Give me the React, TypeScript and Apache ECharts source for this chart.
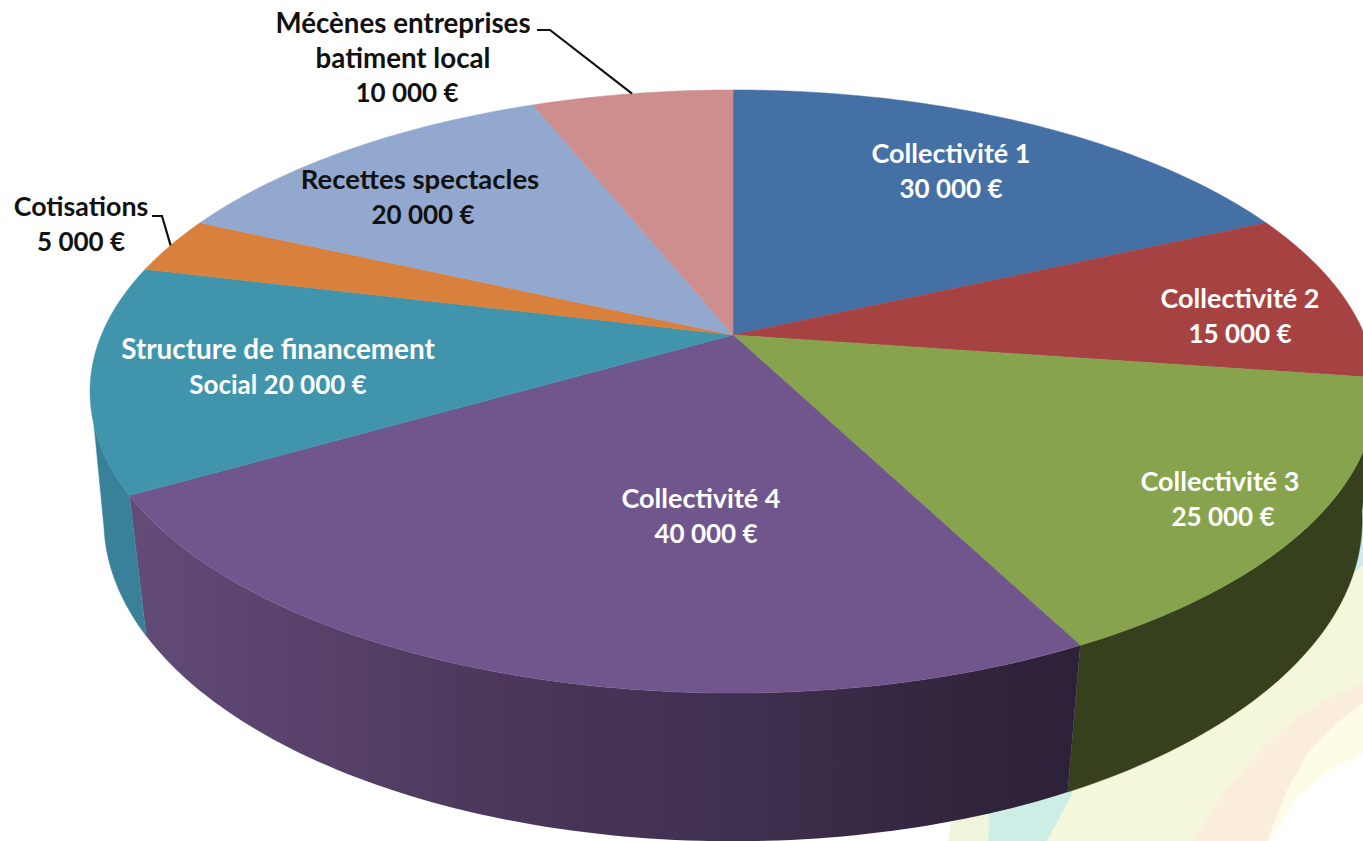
import React, { useEffect, useRef } from "react";
import * as echarts from "echarts";

const sliceNames = [
  "Collectivité 1",
  "Collectivité 2",
  "Collectivité 3",
  "Collectivité 4",
  "Structure de financement\nSocial",
  "Cotisations",
  "Recettes spectacles",
  "Mécènes entreprises\nbatiment local",
];
const sliceValues = [30000, 15000, 25000, 40000, 20000, 5000, 20000, 10000];
const inlineAmount = [false, false, false, false, true, false, false, false];

const topColors = ["#4570A6", "#A64342", "#87A34D", "#70568C", "#4095AD", "#D8803C", "#92A8CE", "#CE8E8E"];
const sideColors: any[] = [
  "#2E4A6E",
  "#6E2C2C",
  "#37401C",
  {
    type: "linear", x: 0, y: 0, x2: 1, y2: 0,
    colorStops: [
      { offset: 0, color: "#634B79" },
      { offset: 0.2, color: "#574169" },
      { offset: 0.4, color: "#4A3759" },
      { offset: 0.65, color: "#3F2F4F" },
      { offset: 0.85, color: "#33263F" },
      { offset: 1, color: "#2C2138" },
    ],
  },
  "#388198",
  "#8F5528",
  "#62718A",
  "#895E5E",
];
const labelColors = ["#FFFFFF", "#FFFFFF", "#FFFFFF", "#FFFFFF", "#FFFFFF", "#111111", "#111111", "#111111"];
const labelCenters = [
  [951, 170], [1240, 315], [1220, 498], [701, 515], [278, 366], [81, 223], [420, 196], [403, 57],
];
const labelNameSizes = [27, 27, 27, 27, 27.8, 26.8, 27.5, 27.7];
const labelAmountSize = 26;
const labelAmountNudge = [0, 0, 3, 5, 0, 0, 3, 4];
const leaderElbows: Record<number, number[][]> = {
  5: [[152, 216], [162, 216]],
  7: [[537, 30], [550, 30]],
};

// Faint swirl in the page background, lower right corner
const swirlLayers: { fill: string; points: number[][] }[] = [
  { fill: "#FEFCE6", points: [[1180, 841], [1180, 700], [1363, 600], [1363, 753], [1330, 770], [1297, 797], [1270, 841]] },
  { fill: "#F5F7DC", points: [[1047, 841], [1075, 780], [1300, 600], [1363, 560], [1363, 683], [1330, 697], [1297, 717], [1263, 747], [1220, 797], [1193, 841]] },
  { fill: "#FBEDDC", points: [[1193, 841], [1220, 797], [1263, 747], [1297, 717], [1330, 697], [1363, 683], [1363, 703], [1337, 723], [1310, 750], [1287, 790], [1267, 841]] },
  { fill: "#CDEDE6", points: [[988, 841], [990, 790], [1070, 780], [1072, 794], [1047, 841]] },
  { fill: "#EEF5DC", points: [[948, 841], [955, 800], [990, 800], [988, 841]] },
  { fill: "#CFEBEE", points: [[1340, 480], [1363, 480], [1363, 565], [1345, 580]] },
];

// Perspective projection of the disc's top and bottom rims
const topRim = { cx: 733, cy: 335, a: 631.6, b: 291, p: 0.1874 };
const bottomRim = { cx: 733, cy: 465.6, a: 620, b: 311.8, p: 0.17 };
const topVisible = [107, 253];
const bottomVisible = [98, 259];

const project = (rim: typeof topRim, deg: number) => {
  const t = (deg * Math.PI) / 180;
  const d = 1 + rim.p * Math.cos(t);
  return [rim.cx + (rim.a * Math.sin(t)) / d, rim.cy - (rim.b * Math.cos(t)) / d];
};
const arc = (rim: typeof topRim, from: number, to: number) => {
  const n = Math.max(2, Math.ceil(Math.abs(to - from)));
  const pts: number[][] = [];
  for (let i = 0; i <= n; i++) pts.push(project(rim, from + ((to - from) * i) / n));
  return pts;
};

const total = sliceValues.reduce((s, v) => s + v, 0);
const edges: number[] = [];
sliceValues.reduce((acc, v) => {
  edges.push((acc / total) * 360);
  return acc + v;
}, 0);
edges.push(360);

const amount = (v: number) => String(v).replace(/\B(?=(\d{3})+$)/g, " ") + " €";
const FONT = "Lato, sans-serif";

export default function App() {
  const ref = useRef<HTMLDivElement>(null);
  useEffect(() => {
    const chart = echarts.init(ref.current!, undefined, { renderer: "svg" });
    const data = sliceValues.map((v, i) => ({ name: sliceNames[i].replace("\n", " "), value: v }));
    chart.setOption({
      animation: false,
      backgroundColor: "#FFFFFF",
      graphic: {
        elements: swirlLayers.map((l) => ({
          type: "polygon",
          silent: true,
          z: 0,
          shape: { points: l.points },
          style: { fill: l.fill },
        })),
      },
      series: [
        {
          type: "custom",
          coordinateSystem: "none",
          z: 2,
          data,
          renderItem: (p: any, api: any) => {
            const i = p.dataIndex;
            api.value(0);
            const a = edges[i], b = edges[i + 1];
            const t0 = Math.max(a, topVisible[0]), t1 = Math.min(b, topVisible[1]);
            const b0 = Math.max(a, bottomVisible[0]), b1 = Math.min(b, bottomVisible[1]);
            if (t1 <= t0 || b1 <= b0) return { type: "group", children: [] };
            const fill = sideColors[i];
            return {
              type: "polygon",
              shape: { points: [...arc(topRim, t0, t1), ...arc(bottomRim, b1, b0)] },
              style: { fill, stroke: typeof fill === "string" ? fill : "none", lineWidth: 0.5 },
            };
          },
        },
        {
          type: "custom",
          coordinateSystem: "none",
          z: 3,
          data,
          renderItem: (p: any, api: any) => {
            const i = p.dataIndex;
            api.value(0);
            return {
              type: "polygon",
              shape: { points: [[topRim.cx, topRim.cy], ...arc(topRim, edges[i], edges[i + 1])] },
              style: { fill: topColors[i], stroke: topColors[i], lineWidth: 0.5 },
            };
          },
        },
        {
          type: "custom",
          coordinateSystem: "none",
          z: 4,
          silent: true,
          data,
          renderItem: (p: any, api: any) => {
            const i = p.dataIndex;
            const v = api.value(0);
            const lines = sliceNames[i].split("\n");
            const last = lines[lines.length - 1];
            const body = inlineAmount[i]
              ? [...lines.slice(0, -1).map((l) => `{n|${l}}`), `{a|${last} ${amount(v)}}`]
              : [...lines.map((l) => `{n|${l}}`), `{a|${amount(v)}}`];
            const children: any[] = [
              {
                type: "text",
                x: labelCenters[i][0],
                y: labelCenters[i][1],
                style: {
                  text: body.join("\n"),
                  align: "center",
                  verticalAlign: "middle",
                  rich: {
                    n: {
                      fill: labelColors[i],
                      font: `bold ${labelNameSizes[i]}px ${FONT}`,
                      lineHeight: 35,
                      align: "center",
                    },
                    a: {
                      fill: labelColors[i],
                      font: `bold ${labelAmountSize}px ${FONT}`,
                      lineHeight: 35,
                      align: "center",
                      padding: [0, 0, 0, labelAmountNudge[i] * 2],
                    },
                  },
                },
              },
            ];
            const elbow = leaderElbows[i];
            if (elbow) {
              children.push({
                type: "polyline",
                shape: { points: [...elbow, project(topRim, (edges[i] + edges[i + 1]) / 2)] },
                style: { stroke: "#111111", lineWidth: 2.2, fill: "none" },
              });
            }
            return { type: "group", children };
          },
        },
      ],
    });
    return () => chart.dispose();
  }, []);
  return (
    <div
      ref={ref}
      style={{ position: "absolute", left: 0, top: 0, width: 1363, height: 841, overflow: "hidden" }}
    />
  );
}
